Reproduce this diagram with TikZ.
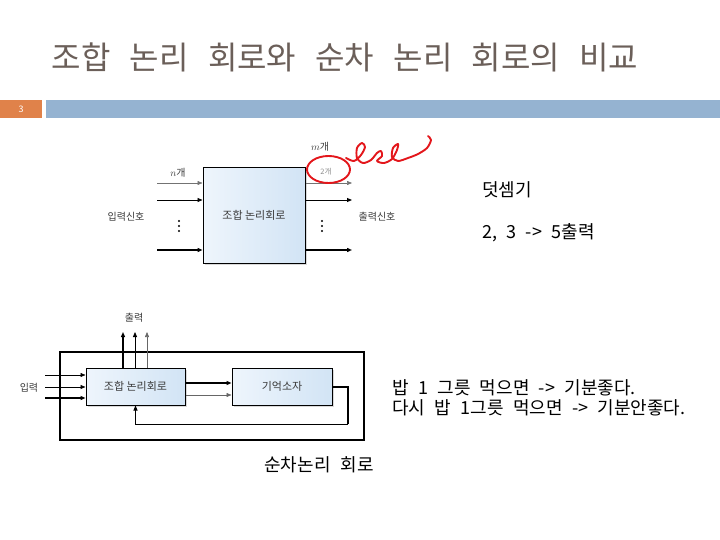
\documentclass[tikz,border=0pt]{standalone}
\usepackage{fontspec}
\setmainfont{Noto Sans CJK KR}
\usetikzlibrary{calc,positioning,arrows.meta,shadows}
\definecolor{SlTitle}{HTML}{6B5F59}
\definecolor{SlOrange}{HTML}{E0824A}
\definecolor{SlBlue}{HTML}{95B3D1}
\definecolor{BoxLight}{HTML}{EEF5FC}
\definecolor{BoxBlue}{HTML}{D2E4F5}
\definecolor{InkRed}{HTML}{E3161B}
\definecolor{LblGray}{HTML}{3A3A3A}
\tikzset{
  blkBox/.style={
    draw=black,
    line width=1pt,
    left color=BoxLight,
    right color=BoxBlue,
    drop shadow={shadow xshift=2pt, shadow yshift=-2pt, opacity=0.3},
    font=\fontsize{11pt}{12pt}\selectfont,
    text=LblGray
  },
  sigArrow/.style={
    -{Triangle[length=5pt,width=4pt]}
  },
  sigLbl/.style={
    font=\fontsize{10pt}{11pt}\selectfont,
    text=LblGray,
    inner sep=1pt
  },
  noteTxt/.style={
    font={\fontsize{18pt}{20pt}\selectfont\spaceskip=0.52em},
    anchor=west,
    inner sep=0pt
  },
  inkLine/.style={
    draw=InkRed,
    line width=1.9pt,
    line cap=round,
    line join=round
  }
}
\begin{document}
\begin{tikzpicture}[x=1pt, y=-1pt]
    \useasboundingbox (0,0) rectangle (720,540);

    % Titel und Leiste
    \node (title) [font={\fontsize{32pt}{36pt}\selectfont\spaceskip=0.6em}, text=SlTitle] at (345,57) {조합 논리 회로와 순차 논리 회로의 비교};
    \fill [SlOrange] (0,100) rectangle (42,118);
    \fill [SlBlue] (46,100) rectangle (720,118);
    \node (pageNo) [font=\fontsize{9pt}{10pt}\selectfont, text=white] at (21,109) {3};

    % Kombinatorische Schaltung
    \node (comb) [blkBox, minimum width=102pt, minimum height=95pt] at (254,215.5) {조합 논리회로};

    \foreach \i/\y/\w/\c in {1/183/0.5pt/black!55, 2/200/0.9pt/black, 3/250/1.4pt/black} {
      \coordinate (in\i) at (157,\y);
      \coordinate (out\i) at (352,\y);
      \draw [sigArrow, line width=\w, draw=\c] (in\i) -- (in\i -| comb.west);
      \draw [sigArrow, line width=\w, draw=\c] (out\i -| comb.east) -- (out\i);
    }

    \foreach \y in {221,226,231} {
      \fill (179,\y) circle (1.1);
      \fill (322,\y) circle (1.1);
    }
    \node (inSig) [sigLbl] at (126,217) {입력신호};
    \node (outSig) [sigLbl] at (377,217) {출력신호};
    \node (nCnt) [sigLbl] at (178,173) {$n$개};
    \node (mCnt) [sigLbl] at (320,147) {$m$개};
    \node (twoCnt) [sigLbl, text=black!45, font=\fontsize{7.5pt}{8pt}\selectfont] at (326,172) {2개};

    % Handschrift
    \draw [inkLine] (328.5,169.5) ellipse (21.5 and 13.5);
    \draw [inkLine] plot [smooth, tension=0.5] coordinates {
      (346,158) (354,161) (361,155) (365,147) (362,143) (357,148) (357,158)
      (363,163) (371,160) (377,153) (381,151) (382,156) (377,161) (384,163)
      (392,159) (397,150) (398,144) (393,148) (392,157) (398,161) (408,158)
      (418,154) (427,148) (431,140) (428,136)};

    % Erklaerung Addierer
    \node (adder) [noteTxt] at (482,190) {덧셈기};
    \node (adderEx) [noteTxt] at (482,233) {2, 3 -> 5출력};

    % Sequentielle Schaltung
    \node (seqFrame) [draw, line width=1.5pt, minimum width=304pt, minimum height=88pt] at (212,396) {};
    \node (seqComb) [blkBox, minimum width=99pt, minimum height=37pt] at (135.5,386.5) {조합 논리회로};
    \node (seqMem) [blkBox, minimum width=100pt, minimum height=37pt] at (282,386.5) {기억소자};

    \foreach \i/\y/\w in {1/375/0.6pt, 2/387/0.9pt, 3/398/1.5pt} {
      \coordinate (sIn\i) at (45,\y);
      \draw [sigArrow, line width=\w] (sIn\i) -- (sIn\i -| seqComb.west);
    }
    \foreach \i/\x/\w/\c in {1/123/1.2pt/black, 2/135/0.8pt/black, 3/147/0.6pt/black!60} {
      \coordinate (sOut\i) at (\x,332);
      \draw [sigArrow, line width=\w, draw=\c] (sOut\i |- seqComb.north) -- (sOut\i);
    }
    \node (seqIn) [sigLbl] at (29,388) {입력};
    \node (seqOut) [sigLbl] at (134,318) {출력};

    \draw [sigArrow, line width=1.2pt] ($(seqComb.east)+(0,-3.5)$) -- ($(seqMem.west)+(0,-3.5)$);
    \draw [sigArrow, line width=0.6pt, draw=black!60] ($(seqComb.east)+(0,8.5)$) -- ($(seqMem.west)+(0,8.5)$);

    % Rueckkopplung
    \coordinate (fbCorner) at (348,424);
    \draw [line width=2pt] (seqMem.east) -| (fbCorner);
    \draw [sigArrow, line width=0.8pt] (fbCorner) -| (seqComb.south);

    \node (seqCap) [font={\fontsize{18pt}{20pt}\selectfont\spaceskip=0.55em}] at (319,465) {순차논리 회로};

    % Beispiel
    \node (meal1) [noteTxt] at (392,388) {밥 1 그릇 먹으면 -> 기분좋다.};
    \node (meal2) [noteTxt] at (392,408) {다시 밥 1그릇 먹으면 -> 기분안좋다.};
  \end{tikzpicture}
\end{document}
